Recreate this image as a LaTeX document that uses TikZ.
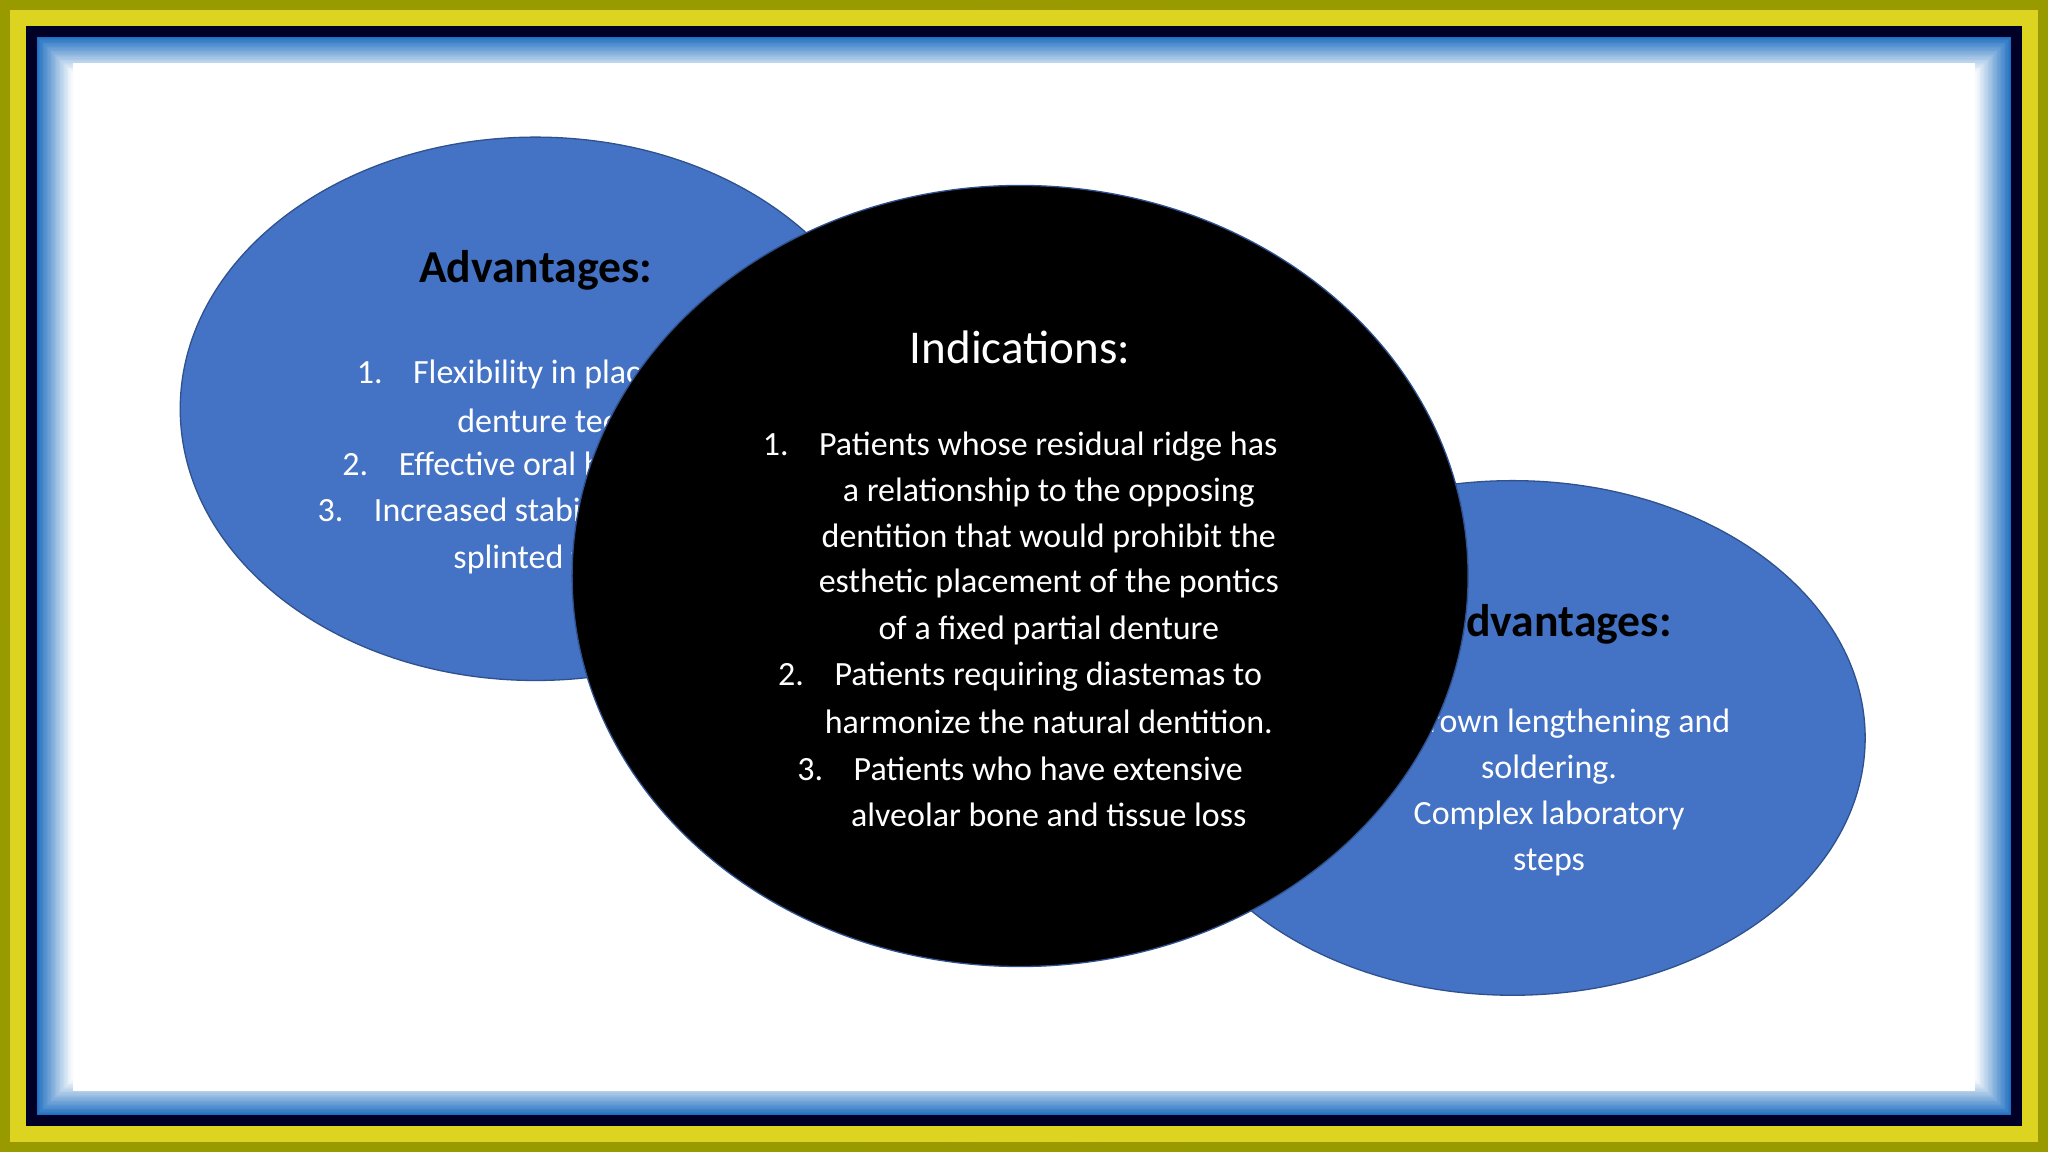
\documentclass[tikz,border=0pt]{standalone}
\usepackage{fontspec}
\setmainfont{Carlito}
\begin{document}
\begin{tikzpicture}[x=1pt,y=1pt,
  blob/.style={fill=blueA,draw=blueB,line width=1pt},
  body/.style={font=\fontsize{26}{30}\selectfont,text=white,inner sep=0pt},
  head/.style={font=\fontsize{35}{40}\selectfont\bfseries,inner sep=0pt}]
\definecolor{blueA}{HTML}{4472C4}
\definecolor{blueB}{HTML}{2F528F}
\definecolor{frameB}{HTML}{1F6FC0}
\useasboundingbox (0,0) rectangle (1568,882);
\shade[outer color=yellow!60!black,inner color=yellow] (0,0) rectangle (1568,882);
\fill[yellow!85!black] (8,8) rectangle (1560,874);
\fill[black!85!blue] (20,20) rectangle (1548,862);
\foreach \i in {0,...,26}{
  \pgfmathsetmacro\p{100-3.7*\i}
  \fill[frameB!\p!white] (28+\i,28+\i) rectangle (1540-\i,854-\i);
}
\fill[white] (56,47) rectangle (1512,834);
% left
\draw[blob] (410,569) ellipse (272 and 208);
\node[head,anchor=center] (LH) at (410,675) {Advantages:};
\node[body,anchor=west] (L1) at (273,595) {1.\hspace{0.9em}Flexibility in placement of the};
\node[body,anchor=west] (L2) at (350,560) {denture teeth};
\node[body,anchor=west] (L3) at (262,525) {2.\hspace{0.9em}Effective oral hygiene};
\node[body,anchor=west] (L4) at (243,490) {3.\hspace{0.9em}Increased stability of};
\node[body,anchor=west] (L5) at (347,454) {splinted teeth};
% right
\draw[blob] (1158,317) ellipse (270 and 197);
\node[head,anchor=east] (RH) at (1280,404) {Disadvantages:};
\node[body,anchor=east] (R1) at (1325,328) {1.\hspace{0.9em}Crown lengthening and};
\node[body] (R2) at (1186,293) {soldering.};
\node[body] (R3) at (1186,258) {Complex laboratory};
\node[body] (R4) at (1186,222) {steps};
% center
\draw[fill=black,draw=blueB,line width=1pt] (781,441) ellipse (343 and 299);
\node[body,font=\fontsize{36}{40}\selectfont] (CH) at (781,616) {Indications:};
\node[body] (C1) at (781,540) {1.\hspace{0.9em}Patients whose residual ridge has};
\node[body] (C2) at (803,505) {a relationship to the opposing};
\node[body] (C3) at (803,470) {dentition that would prohibit the};
\node[body] (C4) at (803,435) {esthetic placement of the pontics};
\node[body] (C5) at (803,399) {of a fixed partial denture};
\node[body] (C6) at (781,364) {2.\hspace{0.9em}Patients requiring diastemas to};
\node[body] (C7) at (803,329) {harmonize the natural dentition.};
\node[body] (C8) at (781,293) {3.\hspace{0.9em}Patients who have extensive};
\node[body] (C9) at (803,258) {alveolar bone and tissue loss};
\end{tikzpicture}
\end{document}
